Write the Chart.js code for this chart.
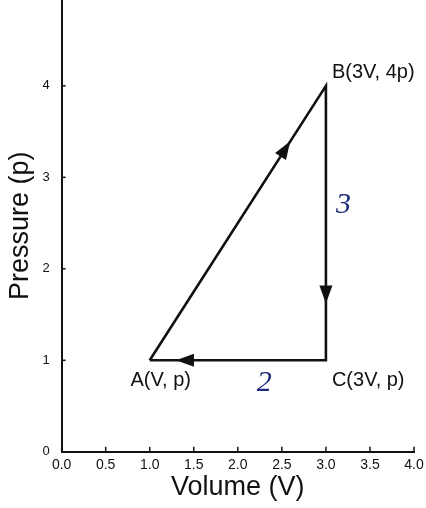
<!DOCTYPE html>
<html>
<head>
<meta charset="utf-8">
<script src="https://cdn.jsdelivr.net/npm/chart.js@4"></script>
<style>
  html, body { margin: 0; padding: 0; background: #fff; overflow: hidden; }
  #wrap { width: 426px; height: 520px; margin-top: -12px; }
</style>
</head>
<body>
<div id="wrap"><canvas id="pvChart"></canvas></div>
<script>
// cycle A -> B -> C -> A
const volumes = [1, 3, 3, 1];
const pressures = [1, 4, 1, 1];
const pointNames = ['A(V, p)', 'B(3V, 4p)', 'C(3V, p)'];
// where the direction arrows sit on each leg (fraction along the leg)
const arrowAt = [0.77, 0.76, 0.8];
const xTicks = [0, 0.5, 1, 1.5, 2, 2.5, 3, 3.5, 4];
const yTicks = [0, 1, 2, 3, 4];
// hand-written notes on the page
const notes = [{ text: '3', v: 3.2, p: 2.7 }, { text: '2', v: 2.3, p: 0.75 }];

const fontName = '"Liberation Sans", Arial, sans-serif';

const cyclePlugin = {
  id: 'cycleDecor',
  afterDatasetsDraw(chart) {
    const c = chart.ctx;
    const xs = chart.scales.x, ys = chart.scales.y;
    c.save();

    // inward tick marks
    c.strokeStyle = '#111';
    c.lineWidth = 1.5;
    xTicks.forEach(v => {
      const px = xs.getPixelForValue(v);
      c.beginPath(); c.moveTo(px, ys.bottom); c.lineTo(px, ys.bottom - 5); c.stroke();
    });
    yTicks.forEach(v => {
      const py = ys.getPixelForValue(v);
      c.beginPath(); c.moveTo(xs.left, py); c.lineTo(xs.left + 4, py); c.stroke();
    });

    // arrow heads
    c.fillStyle = '#111';
    for (let i = 0; i < 3; i++) {
      const x0 = xs.getPixelForValue(volumes[i]), y0 = ys.getPixelForValue(pressures[i]);
      const x1 = xs.getPixelForValue(volumes[i + 1]), y1 = ys.getPixelForValue(pressures[i + 1]);
      const t = arrowAt[i];
      const ax = x0 + (x1 - x0) * t, ay = y0 + (y1 - y0) * t;
      const ang = Math.atan2(y1 - y0, x1 - x0);
      c.save();
      c.translate(ax, ay);
      c.rotate(ang);
      c.beginPath();
      c.moveTo(9, 0);
      c.lineTo(-9, -6.5);
      c.lineTo(-9, 6.5);
      c.closePath();
      c.fill();
      c.restore();
    }

    // point labels
    c.font = '20px ' + fontName;
    c.fillStyle = '#111';
    c.textBaseline = 'middle';
    const ax = xs.getPixelForValue(volumes[0]), ay = ys.getPixelForValue(pressures[0]);
    const bx = xs.getPixelForValue(volumes[1]), by = ys.getPixelForValue(pressures[1]);
    const cx = xs.getPixelForValue(volumes[2]), cy = ys.getPixelForValue(pressures[2]);
    c.textAlign = 'center';
    c.fillText(pointNames[0], ax + 11, ay + 20);
    c.textAlign = 'left';
    c.fillText(pointNames[1], bx + 6, by - 13);
    c.fillText(pointNames[2], cx + 6, cy + 20);

    // blue ink notes
    c.fillStyle = '#1c2b78';
    c.font = 'italic 30px "Liberation Serif", serif';
    c.textAlign = 'center';
    notes.forEach(n => {
      c.fillText(n.text, xs.getPixelForValue(n.v), ys.getPixelForValue(n.p));
    });
    c.restore();
  }
};

new Chart(document.getElementById('pvChart'), {
  type: 'scatter',
  data: {
    datasets: [{
      data: volumes.map((v, i) => ({ x: v, y: pressures[i] })),
      showLine: true,
      borderColor: '#111',
      borderWidth: 2.6,
      pointRadius: 0,
      tension: 0
    }]
  },
  options: {
    responsive: true,
    maintainAspectRatio: false,
    animation: false,
    layout: { padding: { top: 0, right: 12, bottom: 4, left: 0 } },
    plugins: { legend: { display: false }, tooltip: { enabled: false } },
    scales: {
      x: {
        type: 'linear',
        min: 0, max: 4,
        afterBuildTicks: s => { s.ticks = xTicks.map(v => ({ value: v })); },
        border: { color: '#111', width: 2 },
        grid: { display: false },
        ticks: {
          color: '#111', padding: -3,
          font: { family: fontName, size: 14 },
          callback: v => Number(v).toFixed(1),
          maxRotation: 0
        },
        title: {
          display: true, text: 'Volume (V)', color: '#111',
          font: { family: fontName, size: 27 }, padding: { top: 1, bottom: 0 }
        }
      },
      y: {
        type: 'linear',
        min: 0, max: 4.94,
        afterBuildTicks: s => { s.ticks = yTicks.map(v => ({ value: v })); },
        border: { color: '#111', width: 2 },
        grid: { display: false },
        ticks: {
          color: '#111', padding: 4,
          font: { family: fontName, size: 13 }
        },
        title: {
          display: true, text: 'Pressure (p)', color: '#111',
          font: { family: fontName, size: 27 }, padding: { bottom: 2 }
        }
      }
    }
  },
  plugins: [cyclePlugin]
});
</script>
</body>
</html>
